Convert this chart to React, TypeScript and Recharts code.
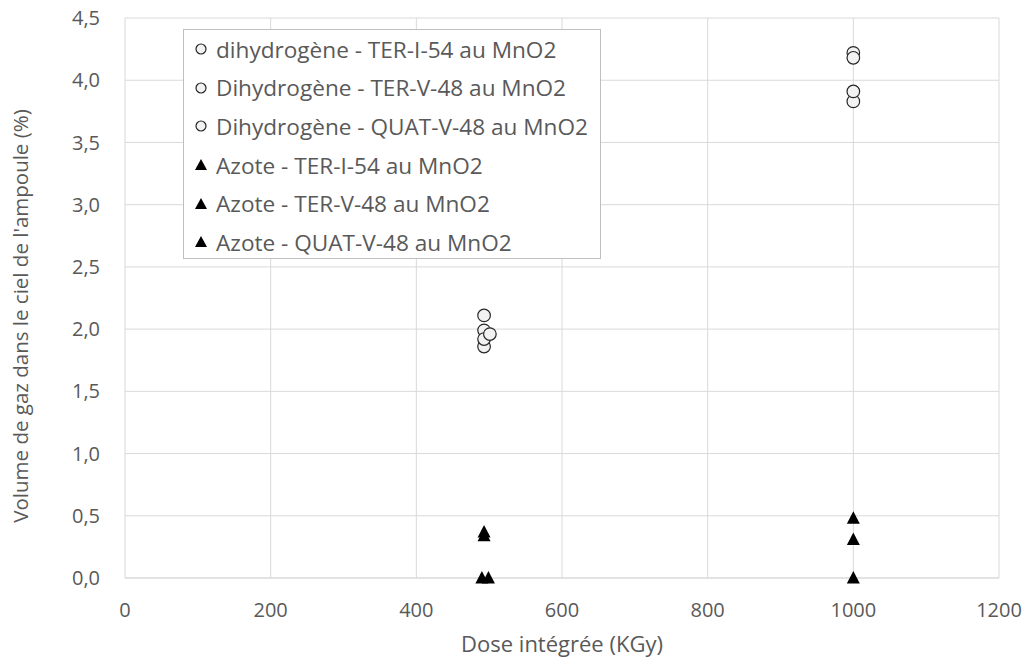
import { ScatterChart, Scatter, XAxis, YAxis, CartesianGrid } from 'recharts';

// valeurs
const h2TerI54 = [
    { x: 493, y: 2.11 },
    { x: 1000, y: 4.22 },
    { x: 493, y: 1.86 },
];
const h2TerV48 = [
    { x: 493, y: 1.99 },
    { x: 1000, y: 4.18 },
    { x: 1000, y: 3.83 },
];
const h2QuatV48 = [
    { x: 493, y: 1.92 },
    { x: 501, y: 1.96 },
    { x: 1000, y: 3.91 },
];
const n2TerI54 = [
    { x: 493, y: 0.37 },
    { x: 1000, y: 0.48 },
];
const n2TerV48 = [
    { x: 493, y: 0.34 },
    { x: 1000, y: 0.31 },
    { x: 490, y: 0 },
];
const n2QuatV48 = [
    { x: 499, y: 0 },
    { x: 1000, y: 0 },
];

const xTicks = [0, 200, 400, 600, 800, 1000, 1200];
const yTicks = [0, 0.5, 1, 1.5, 2, 2.5, 3, 3.5, 4, 4.5];

const seriesNames = [
    'dihydrogène - TER-I-54 au MnO2',
    'Dihydrogène - TER-V-48 au MnO2',
    'Dihydrogène - QUAT-V-48 au MnO2',
    'Azote - TER-I-54 au MnO2',
    'Azote - TER-V-48 au MnO2',
    'Azote - QUAT-V-48 au MnO2',
];

const FONT = '"Open Sans", sans-serif';
const TEXT = '#595959';
const GRID = '#d9d9d9';

const CircleMark = ({ cx, cy }: any) => (
    <circle cx={cx} cy={cy} r={6.3} fill="#f2f2f2" stroke="#262626" strokeWidth={1.2} />
);

const TriangleMark = ({ cx, cy }: any) => (
    <polygon points={`${cx},${cy - 7} ${cx + 6.5},${cy + 5.5} ${cx - 6.5},${cy + 5.5}`} fill="#000" />
);

// titre vertical, un peu sous le centre comme dans Excel
const YTitle = ({ viewBox }: any) => {
    const cx = viewBox.x + 20;
    const cy = viewBox.y + viewBox.height / 2 + 18;
    return (
        <text
            x={cx}
            y={cy}
            transform={`rotate(-90, ${cx}, ${cy})`}
            textAnchor="middle"
            dominantBaseline="central"
            fill={TEXT}
            fontSize={20.5}
            fontFamily={FONT}
        >
            Volume de gaz dans le ciel de l'ampoule (%)
        </text>
    );
};

// légende façon Excel
const ChartLegend = () => (
    <div
        style={{
            position: 'absolute',
            left: 183,
            top: 29,
            border: '1px solid #bfbfbf',
            background: '#fff',
            width: 418,
            height: 230,
            boxSizing: 'border-box',
            padding: '0 0 0 10px',
            fontFamily: FONT,
            fontSize: 22.6,
            color: TEXT,
        }}
    >
        {seriesNames.map((name, i) => (
            <div key={name} style={{ height: 38.6, display: 'flex', alignItems: 'center', whiteSpace: 'nowrap' }}>
                <svg width={22} height={16} style={{ flex: 'none' }}>
                    {i < 3 ? (
                        <circle cx={7} cy={8} r={5} fill="#f2f2f2" stroke="#262626" strokeWidth={1.2} />
                    ) : (
                        <polygon points="7,2 13,13 1,13" fill="#000" />
                    )}
                </svg>
                <span>{name}</span>
            </div>
        ))}
    </div>
);

export default function App() {
    const fmt = (v: number) => v.toFixed(1).replace('.', ',');
    return (
        <div style={{ position: 'fixed', left: 0, top: 0, width: 1029, height: 659, background: '#fff' }}>
            <ScatterChart
                width={1029}
                height={659}
                margin={{ top: 18, right: 30, left: 0, bottom: 0 }}
                style={{ fontFamily: FONT }}
            >
                <CartesianGrid stroke={GRID} strokeWidth={1} />
                <XAxis
                    type="number"
                    dataKey="x"
                    domain={[0, 1200]}
                    ticks={xTicks}
                    height={81}
                    stroke={GRID}
                    tickLine={false}
                    tickSize={0}
                    tickMargin={25}
                    tick={{ fill: TEXT, fontSize: 20, fontFamily: FONT }}
                    label={{
                        value: 'Dose intégrée (KGy)',
                        position: 'insideBottom',
                        offset: 7,
                        fill: TEXT,
                        fontSize: 22,
                        fontFamily: FONT,
                    }}
                />
                <YAxis
                    type="number"
                    dataKey="y"
                    domain={[0, 4.5]}
                    ticks={yTicks}
                    width={125}
                    axisLine={false}
                    tickLine={false}
                    tickSize={0}
                    tickMargin={25}
                    tickFormatter={fmt}
                    tick={{ fill: TEXT, fontSize: 20, fontFamily: FONT }}
                    label={<YTitle />}
                />
                <Scatter name={seriesNames[0]} data={h2TerI54} shape={<CircleMark />} isAnimationActive={false} />
                <Scatter name={seriesNames[1]} data={h2TerV48} shape={<CircleMark />} isAnimationActive={false} />
                <Scatter name={seriesNames[2]} data={h2QuatV48} shape={<CircleMark />} isAnimationActive={false} />
                <Scatter name={seriesNames[3]} data={n2TerI54} shape={<TriangleMark />} isAnimationActive={false} />
                <Scatter name={seriesNames[4]} data={n2TerV48} shape={<TriangleMark />} isAnimationActive={false} />
                <Scatter name={seriesNames[5]} data={n2QuatV48} shape={<TriangleMark />} isAnimationActive={false} />
            </ScatterChart>
            <ChartLegend />
        </div>
    );
}
